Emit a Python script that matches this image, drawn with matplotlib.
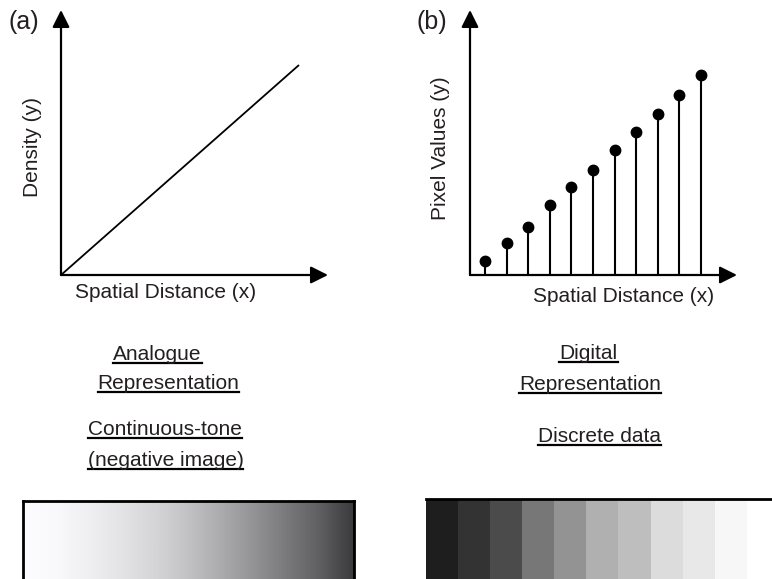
import matplotlib
matplotlib.use('Agg')
import matplotlib.pyplot as plt
import numpy as np
from matplotlib.colors import LinearSegmentedColormap
from matplotlib.lines import Line2D

plt.rcParams['font.family'] = ['Liberation Sans', 'DejaVu Sans']

# ---------------- data ----------------
analog_x = [0, 1]
analog_y = [0, 1]
stem_idx = list(range(1, 12))
stem_vals = [14, 32, 48, 70, 88, 105, 125, 143, 161, 180, 200]
gradient_pos = [0, .1, .2, .3, .4, .5, .6, .7, .8, .9, 1]
gradient_gray = [254, 250, 240, 228, 214, 195, 172, 148, 122, 96, 60]
step_gray = [30, 51, 75, 119, 147, 176, 190, 220, 232, 247, 255]
panel_labels = ['(a)', '(b)']
x_label = 'Spatial Distance (x)'
y_labels = ['Density (y)', 'Pixel Values (y)']

W, H = 772, 579
TXT = '#231f20'
FS = 15

fig = plt.figure(figsize=(W / 100, H / 100), dpi=100)


def px_axes(x0, y0, x1, y1):
    ax = fig.add_axes([x0 / W, 1 - y1 / H, (x1 - x0) / W, (y1 - y0) / H])
    return ax


def arrows(ax):
    kw = dict(arrowstyle='-|>', mutation_scale=26, lw=1.6, color='black',
              shrinkA=0, shrinkB=0)
    ax.annotate('', xy=(1, 0), xytext=(0, 0), xycoords='axes fraction',
                arrowprops=kw, annotation_clip=False)
    ax.annotate('', xy=(0, 1), xytext=(0, 0), xycoords='axes fraction',
                arrowprops=kw, annotation_clip=False)


def clean(ax):
    ax.set_xticks([])
    ax.set_yticks([])
    for s in ax.spines.values():
        s.set_visible(False)
    ax.patch.set_alpha(0)


# ---------------- panel (a) ----------------
axa = px_axes(61, 10, 328, 275)
clean(axa)
axa.set_xlim(0, 267 / 238)
axa.set_ylim(0, 265 / 210)
axa.plot(analog_x, analog_y, color='black', lw=1.3, solid_capstyle='butt')
arrows(axa)

# ---------------- panel (b) ----------------
axb = px_axes(470, 10, 737, 275)
clean(axb)
sp = 21.6
axb.set_xlim(1 - 15 / sp, 1 + 252 / sp)
axb.set_ylim(0, 265)
axb.vlines(stem_idx, 0, stem_vals, color='black', lw=1.5)
axb.plot(stem_idx, stem_vals, 'o', ms=7.5, color='black')
arrows(axb)

# ---------------- gradient bar ----------------
axg = px_axes(23, 501, 354, 579)
axg.set_xticks([])
axg.set_yticks([])
cols = [(p, ((g - 1) / 255, (g - 1) / 255, min(1, (g + 2) / 255)))
        for p, g in zip(gradient_pos, gradient_gray)]
cmap = LinearSegmentedColormap.from_list('grad', cols)
axg.imshow(np.linspace(0, 1, 400)[None, :], cmap=cmap, aspect='auto',
           extent=[0, 1, 0, 1], vmin=0, vmax=1)
for k in ['left', 'top', 'right']:
    axg.spines[k].set_linewidth(2)
    axg.spines[k].set_color('black')
axg.spines['bottom'].set_visible(False)

# ---------------- step bar ----------------
axs = px_axes(426, 499, 426 + 32 * len(step_gray), 579)
axs.set_xticks([])
axs.set_yticks([])
axs.imshow(np.array(step_gray)[None, :], cmap='gray', vmin=0, vmax=255,
           aspect='auto', extent=[0, len(step_gray), 0, 1], interpolation='nearest')
axs.spines['top'].set_linewidth(2)
axs.spines['top'].set_color('black')
for k in ['left', 'right', 'bottom']:
    axs.spines[k].set_visible(False)

# ---------------- texts ----------------
def ftext(x, y, s, **kw):
    kw.setdefault('fontsize', FS)
    kw.setdefault('color', TXT)
    return fig.text(x / W, 1 - y / H, s, **kw)

ftext(24, 22, panel_labels[0], fontsize=18, ha='center', va='center')
ftext(432, 22, panel_labels[1], fontsize=18, ha='center', va='center')
ftext(33, 147, y_labels[0], rotation=90, ha='center', va='center')
ftext(440, 148, y_labels[1], rotation=90, ha='center', va='center')
ftext(166, 293, x_label, ha='center', va='center')
ftext(624, 296, x_label, ha='center', va='center')

under = [
    (157.5, 360, 'Analogue'),
    (168.5, 389, 'Representation'),
    (165, 435, 'Continuous-tone'),
    (165.5, 466, '(negative image)'),
    (588.5, 359, 'Digital'),
    (590, 390, 'Representation'),
    (599, 442, 'Discrete data'),
]
texts = []
for x, y, s in under:
    t = ftext(x, y, s, ha='center', va='baseline')
    texts.append((t, y))

fig.canvas.draw()
r = fig.canvas.get_renderer()
for t, y in texts:
    bb = t.get_window_extent(renderer=r)
    yy = 1 - (y + 3) / H
    fig.add_artist(Line2D([bb.x0 / W, bb.x1 / W], [yy, yy], color='black', lw=1.6,
                          transform=fig.transFigure))

fig.savefig('out.png', dpi=100)
